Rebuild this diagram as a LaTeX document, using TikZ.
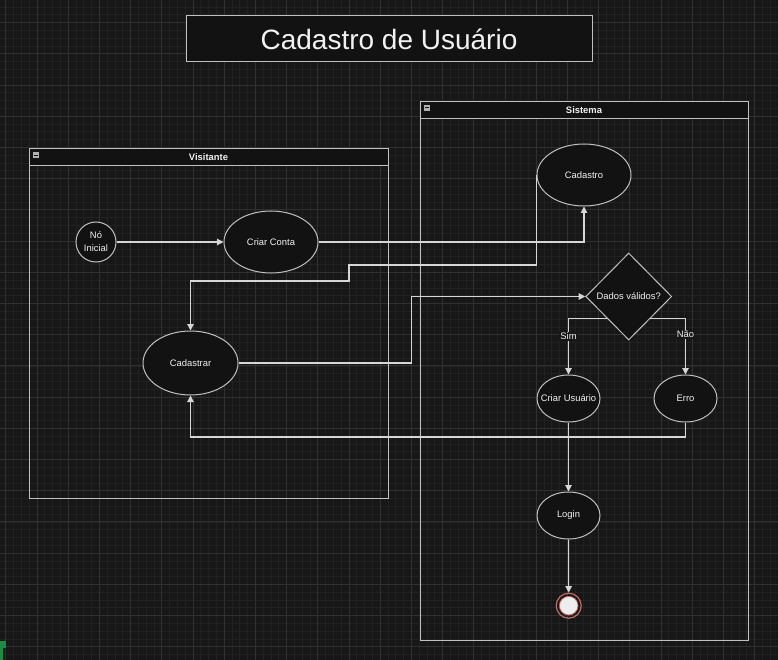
\documentclass[tikz,border=0pt]{standalone}
\usepackage{fontspec}
\setmainfont{Liberation Sans}
\usetikzlibrary{shapes.geometric,arrows.meta}
\definecolor{bgc}{HTML}{171717}
\definecolor{gmin}{HTML}{212121}
\definecolor{gmaj}{HTML}{303030}
\definecolor{nodefill}{HTML}{121212}
\definecolor{linec}{HTML}{C0C0C0}
\definecolor{edgec}{HTML}{D6D6D6}
\definecolor{txt}{HTML}{F2F2F2}
\definecolor{endred}{HTML}{C26A64}
\definecolor{greenc}{HTML}{1E8A44}
\definecolor{iconc}{HTML}{B0B0B0}
\tikzset{
  smallfont/.style={font=\fontsize{9.4}{13}\selectfont},
  state/.style={ellipse, draw=linec, fill=nodefill, text=txt, line width=1pt, inner sep=0pt, smallfont},
  startstate/.style={circle, draw=linec, fill=nodefill, text=txt, line width=1pt, inner sep=0pt, minimum size=40pt, smallfont, align=center},
  decision/.style={diamond, draw=linec, fill=nodefill, line width=1pt, inner sep=0pt},
  lanebox/.style={draw=linec, line width=1pt},
  laneheader/.style={draw=linec, fill=nodefill, line width=1pt, inner sep=0pt},
  lanetitle/.style={text=txt, font=\bfseries\fontsize{9.4}{11}\selectfont},
  flow/.style={draw=edgec, line width=1.1pt, -{Triangle[length=6.5pt,width=6.5pt]}},
  flowlabel/.style={fill=bgc, text=txt, inner sep=1pt, smallfont},
  collapse/.style={fill=iconc, draw=none}
}
\begin{document}
\begin{tikzpicture}[x=1pt,y=-1pt]
\useasboundingbox (0,0) rectangle (778,660);
\fill[bgc] (0,0) rectangle (778,660);
% grid
\foreach \x in {5.7,13.5,...,778} \draw[gmin, line width=0.6pt] (\x,0) -- (\x,660);
\foreach \y in {7,14.8,...,660} \draw[gmin, line width=0.6pt] (0,\y) -- (778,\y);
\foreach \x in {5.7,36.9,...,778} \draw[gmaj, line width=0.7pt] (\x,0) -- (\x,660);
\foreach \y in {22.6,53.8,...,660} \draw[gmaj, line width=0.7pt] (0,\y) -- (778,\y);
\fill[greenc] (0,640.7) rectangle (6,648.3);
\fill[greenc] (0,648.3) rectangle (2.7,660);

% title
\node[draw=linec, fill=nodefill, line width=1pt, minimum width=406pt, minimum height=46pt, inner sep=0pt, text=txt, font=\fontsize{28}{32}\selectfont] (title) at (389,39) {Cadastro de Usuário};

% lane Visitante
\draw[lanebox] (29,149) rectangle (388,498);
\draw[laneheader] (29,149) rectangle (388,166);
\fill[collapse] (32.5,152) rectangle (39,158);
\draw[nodefill, line width=0.8pt] (34,155) -- (37.5,155);
\node[lanetitle] (visitante) at (208.5,157.5) {Visitante};

% lane Sistema
\draw[lanebox] (420,102) rectangle (748,640);
\draw[laneheader] (420,102) rectangle (748,119);
\fill[collapse] (423.5,104.7) rectangle (430,110.7);
\draw[nodefill, line width=0.8pt] (425,107.7) -- (428.5,107.7);
\node[lanetitle] (sistema) at (584,110.5) {Sistema};

% nodes
\node[startstate] (ni) at (96,242) {Nó\\Inicial};
\node[state, minimum width=94pt, minimum height=62pt] (criar) at (271,242) {Criar Conta};
\node[state, minimum width=94pt, minimum height=62pt] (cadastro) at (584,175) {Cadastro};
\node[state, minimum width=95pt, minimum height=64pt] (cadastrar) at (190.5,363) {Cadastrar};
\node[decision, minimum width=86pt, minimum height=87pt, label={[text=txt, smallfont]center:Dados válidos?}] (dv) at (628.7,296.5) {};
\node[state, minimum width=63pt, minimum height=47pt, inner xsep=-9pt] (cu) at (568.5,398.5) {Criar Usuário};
\node[state, minimum width=63pt, minimum height=47pt] (erro) at (685.5,398.5) {Erro};
\node[state, minimum width=63pt, minimum height=47pt] (login) at (568.5,515.5) {Login};
\node[circle, draw=endred, line width=1.2pt, minimum size=25pt, inner sep=0pt] (fim) at (568.7,605.7) {};
\node[circle, draw=endred, fill=white!93!black, line width=0.8pt, minimum size=18.6pt, inner sep=0pt] (fimin) at (fim.center) {};

% bend coordinates
\coordinate (b1) at (349,265);
\coordinate (b2) at (349,281);
\coordinate (b3) at (411.7,296.5);
\coordinate (b4) at (0,437);

% connectors
\draw[flow] (ni) -- (criar);
\draw[flow] (criar.east) -| (cadastro.south);
\draw[flow] (cadastro.west) |- (b1) -- (b2) -| (cadastrar.north);
\draw[flow] (cadastrar.east) -| (b3) -- (dv.west);
\draw[flow] (dv.south west) -| node[flowlabel, pos=0.66] (sim) {Sim} (cu.north);
\draw[flow] (dv.south east) -| node[flowlabel, pos=0.64] (nao) {Não} (erro.north);
\draw[flow] (erro.south) -- (erro.south |- b4) -| (cadastrar.south);
\draw[flow] (cu) -- (login);
\draw[flow] (login) -- (fim);
\end{tikzpicture}
\end{document}
